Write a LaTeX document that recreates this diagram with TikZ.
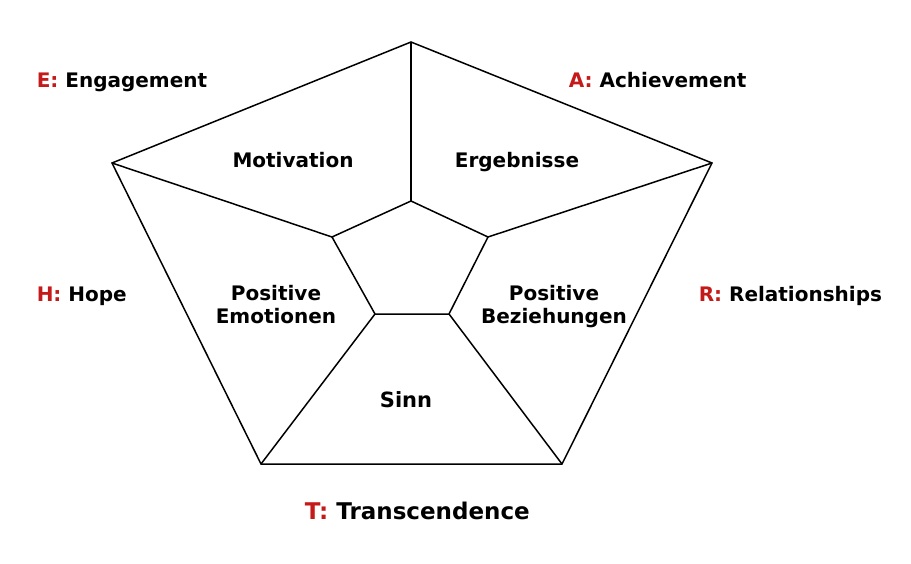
\documentclass[tikz,border=0pt]{standalone}
\usepackage{fontspec}
\setmainfont{DejaVu Sans}
\definecolor{letterred}{RGB}{196,26,26}
\begin{document}
\begin{tikzpicture}[x=1pt,y=-1pt,line width=1.5pt,
  area/.style={font=\bfseries\fontsize{20}{23}\selectfont,align=center,inner sep=0pt},
  pillar/.style={font=\bfseries\fontsize{20}{23}\selectfont,anchor=base west,inner sep=0pt}]
\useasboundingbox (0,0) rectangle (911,563);
% outer pentagon
\coordinate (o0) at (411,42);
\coordinate (o1) at (712,163);
\coordinate (o2) at (562,464);
\coordinate (o3) at (261,464);
\coordinate (o4) at (112,163);
% inner pentagon
\coordinate (i0) at (411,201);
\coordinate (i1) at (488,237);
\coordinate (i2) at (449,314);
\coordinate (i3) at (375,314);
\coordinate (i4) at (332,237);
\draw (o0) -- (o1) -- (o2) -- (o3) -- (o4) -- cycle;
\draw (i0) -- (i1) -- (i2) -- (i3) -- (i4) -- cycle;
\foreach \k in {0,...,4} \draw (o\k) -- (i\k);
% fields
\node[area,anchor=base] (mot) at (293,167) {Motivation};
\node[area,anchor=base] (erg) at (517,167) {Ergebnisse};
\node[area,anchor=north] (emo) at (276,285) {Positive\\Emotionen};
\node[area,anchor=north] (bez) at (554,285) {Positive\\Beziehungen};
\node[area,anchor=base,font=\bfseries\fontsize{21}{24}\selectfont] (sinn) at (406,407) {Sinn};
% PERMA letters
\node[pillar] (eng) at (36,87) {\textcolor{letterred}{E:} Engagement};
\node[pillar] (ach) at (568,87) {\textcolor{letterred}{A:} Achievement};
\node[pillar] (hop) at (36,301) {\textcolor{letterred}{H:} Hope};
\node[pillar] (rel) at (698,301) {\textcolor{letterred}{R:} Relationships};
\node[pillar,font=\bfseries\fontsize{23}{25}\selectfont] (tra) at (304,519) {\textcolor{letterred}{T:} Transcendence};
\end{tikzpicture}
\end{document}
